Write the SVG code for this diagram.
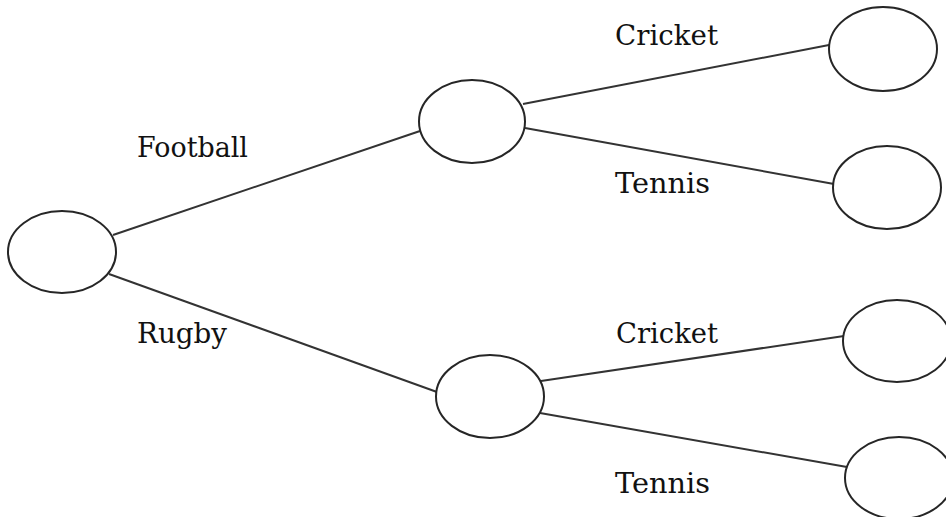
<svg xmlns="http://www.w3.org/2000/svg" width="946" height="517" viewBox="0 0 946 517">
<style>
.node ellipse{fill:#fff;stroke:#262626;stroke-width:2}
.edges line{stroke:#333;stroke-width:2}
.lbl{font-family:"DejaVu Serif","Liberation Serif",serif;font-size:27px;fill:#111}
</style>
<rect width="946" height="517" fill="#fff"/>
<g id="connectors" class="edges">
<line x1="113" y1="235" x2="420" y2="131"/>
<line x1="109" y1="274" x2="437" y2="392"/>
<line x1="523" y1="104" x2="829" y2="45"/>
<line x1="525" y1="128" x2="834" y2="184"/>
<line x1="541" y1="381" x2="844" y2="336"/>
<line x1="540" y1="413" x2="847" y2="467"/>
</g>
<g id="root" class="node"><ellipse cx="62" cy="252" rx="54" ry="41"/></g>
<g id="football-node" class="node"><ellipse cx="472" cy="121.5" rx="53" ry="41.5"/></g>
<g id="rugby-node" class="node"><ellipse cx="490" cy="396.5" rx="54" ry="41.5"/></g>
<g id="fc-node" class="node"><ellipse cx="883" cy="49" rx="54" ry="42"/></g>
<g id="ft-node" class="node"><ellipse cx="887" cy="187.5" rx="54" ry="41.5"/></g>
<g id="rc-node" class="node"><ellipse cx="897" cy="341" rx="54" ry="41"/></g>
<g id="rt-node" class="node"><ellipse cx="899" cy="478" rx="54" ry="41"/></g>
<g id="labels">
<text class="lbl" x="137" y="157" textLength="111" lengthAdjust="spacingAndGlyphs">Football</text>
<text class="lbl" x="137" y="343" textLength="90" lengthAdjust="spacingAndGlyphs">Rugby</text>
<text class="lbl" x="615" y="45" textLength="103" lengthAdjust="spacingAndGlyphs">Cricket</text>
<text class="lbl" x="615" y="193" textLength="95" lengthAdjust="spacingAndGlyphs">Tennis</text>
<text class="lbl" x="616" y="343" textLength="102" lengthAdjust="spacingAndGlyphs">Cricket</text>
<text class="lbl" x="615" y="493" textLength="95" lengthAdjust="spacingAndGlyphs">Tennis</text>
</g>
</svg>
